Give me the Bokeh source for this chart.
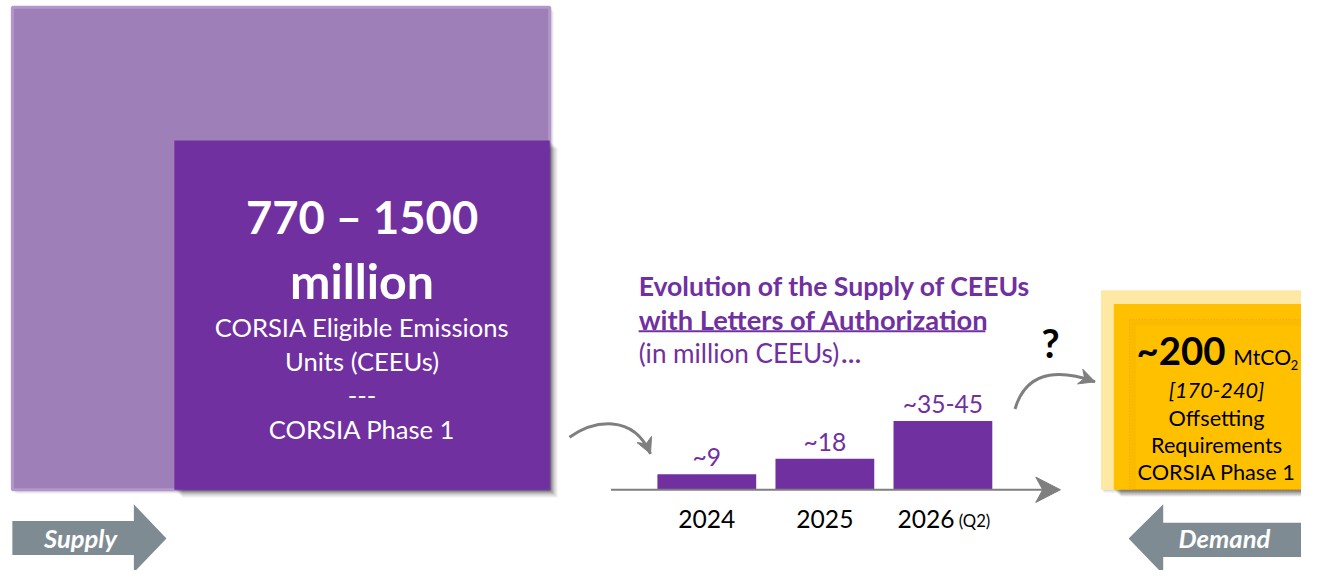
from bokeh.plotting import figure
from bokeh.models import Range1d
from bokeh.core.properties import value
from bokeh.embed import file_html
from bokeh.resources import INLINE

# ---------------- data ----------------
years = ["2024", "2025", "2026"]
year_suffix = ["", "", "(Q2)"]
supply_values = [9, 18, 40]
value_labels = ["~9", "~18", "~35-45"]

supply_headline = "770 – 1500"
supply_unit = "million"
supply_lines = ["CORSIA Eligible Emissions", "Units (CEEUs)", "---", "CORSIA Phase 1"]

title_lines = ["Evolution of the Supply of CEEUs", "with Letters of Authorization"]
subtitle = "(in million CEEUs)"

demand_headline = "~200"
demand_unit = "MtCO"
demand_lines = ["[170-240]", "Offsetting", "Requirements", "CORSIA Phase 1"]

# ---------------- styles ----------------
FONT = "Lato"
PURPLE = "#7030A0"
LAVENDER = "#9E7FB7"
GREY = "#7F7F7F"
SLATE = "#7F8B92"
GOLD = "#FFC000"
PALE_GOLD = "#FFE8A3"
FS = 0.985  # font scale to match the canvas scale

W, H = 1301, 570
p = figure(width=W, height=H, output_backend="svg", toolbar_location=None,
           x_range=Range1d(0, 1317), y_range=Range1d(586, 0),
           x_axis_type=None, y_axis_type=None, min_border=0,
           outline_line_color=None, background_fill_color="white",
           border_fill_color="white")
p.grid.visible = False


def txt(x, y, s, size, color="white", style="normal", align="center"):
    p.text(x=[x], y=[y], text=[s], text_font=value(FONT),
           text_font_size=f"{size * FS:.1f}px",
           text_font_style=style, text_color=color, text_align=align,
           text_baseline="middle")


def shadow(l, t, r, b, n=7, a=0.05):
    for o in range(1, n + 1):
        p.quad(left=[l + o], right=[r + o], top=[t + o], bottom=[b + o],
               fill_color="black", fill_alpha=a, line_color=None)


def bez_arrow(x0, y0, cx0, cy0, cx1, cy1, x1, y1, color, lw=3, hl=16, hw=8):
    p.bezier(x0=[x0], y0=[y0], cx0=[cx0], cy0=[cy0], cx1=[cx1], cy1=[cy1],
             x1=[x1], y1=[y1], line_color=color, line_width=lw)
    dx, dy = x1 - cx1, y1 - cy1
    n = (dx * dx + dy * dy) ** 0.5
    ux, uy = dx / n, dy / n
    px, py = -uy, ux
    bx, by = x1 - ux * hl, y1 - uy * hl
    nx, ny = x1 - ux * hl * 0.7, y1 - uy * hl * 0.7
    p.patch(x=[x1, bx + px * hw, nx, bx - px * hw], y=[y1, by + py * hw, ny, by - py * hw],
            fill_color=color, line_color=color, line_width=1)


# ---------------- supply squares ----------------
shadow(12, 7, 556, 503, 4)
p.quad(left=[12], right=[556], top=[7], bottom=[503], fill_color=LAVENDER, line_color=None)
p.quad(left=[12], right=[556], top=[7], bottom=[503], fill_color=None,
       line_color="#B397CC", line_width=3)
shadow(176, 144, 556, 503, 8)
p.quad(left=[176], right=[556], top=[144], bottom=[503], fill_color=PURPLE, line_color=None)

cx = 366
txt(cx, 222, supply_headline, 46, style="bold")
txt(cx, 287, supply_unit, 49, style="bold")
for s, yc in zip(supply_lines, [336, 371, 407, 441]):
    txt(cx, yc, s, 26)

# Supply arrow
p.patch(x=[12, 135, 135, 168, 135, 135, 12], y=[535, 535, 518, 553, 588, 570, 570],
        fill_color=SLATE, line_color=None)
txt(81, 553, "Supply", 26, style="bold italic")

# ---------------- bar chart ----------------
base_y = 503
px_per_unit = 1.77
bar_w = 100
first_c = 715
step = 119.5
centers = [first_c + i * step for i in range(len(years))]
tops = [base_y - v * px_per_unit for v in supply_values]
p.vbar(x=centers, width=bar_w, bottom=base_y, top=tops, fill_color=PURPLE, line_color=None)
p.text(x=centers, y=[t - 18 for t in tops], text=value_labels, text_font=value(FONT),
       text_font_size=f"{25 * FS:.1f}px", text_color=PURPLE, text_align="center",
       text_baseline="middle")

# axis line with arrow
p.segment(x0=[618], y0=[base_y], x1=[1058], y1=[base_y], line_color=GREY, line_width=2)
p.patch(x=[1073, 1048, 1055, 1048], y=[base_y, base_y - 13, base_y, base_y + 13],
        fill_color=GREY, line_color=GREY)

# year labels
for c, yr, suf in zip(centers, years, year_suffix):
    if suf:
        txt(c - 46, 533, yr, 25, color="black", align="left")
        txt(c + 16, 535, suf, 17, color="black", align="left")
    else:
        txt(c, 533, yr, 25, color="black")

# titles
txt(646, 293, title_lines[0], 27, color=PURPLE, style="bold", align="left")
txt(646, 328, title_lines[1], 27.7, color=PURPLE, style="bold", align="left")
p.segment(x0=[646], y0=[340], x1=[997], y1=[340], line_color=PURPLE, line_width=2)
txt(646, 362, subtitle, 26.5, color=PURPLE, align="left")
txt(851, 362, "…", 26, color=PURPLE, style="bold", align="left")

# curved arrows
bez_arrow(576, 449, 600, 432, 640, 424, 658, 466, GREY)
bez_arrow(1027, 420, 1040, 375, 1080, 382, 1108, 392, GREY)
txt(1063, 352, "?", 40, color="black", style="bold")

# ---------------- demand box ----------------
shadow(1114, 298, 1320, 503, 3)
p.quad(left=[1114], right=[1320], top=[298], bottom=[503], fill_color=PALE_GOLD, line_color=None)
shadow(1127, 312, 1320, 503, 7, 0.08)
p.quad(left=[1127], right=[1320], top=[312], bottom=[503], fill_color=GOLD, line_color=None)
for i in range(6):
    p.quad(left=[1144 + i], right=[1330], top=[329 + i], bottom=[503], fill_color=None,
           line_color="#C08000", line_alpha=0.07, line_width=1)
p.quad(left=[1143], right=[1330], top=[328], bottom=[503], fill_color=None,
       line_color="#F39A3A", line_width=1, line_dash="1 2")

txt(1150, 359, demand_headline, 39, color="black", style="bold", align="left")
txt(1248, 366, demand_unit, 21.5, color="black", align="left")
txt(1306, 375, "2", 13, color="black", align="left")
for s, yc in zip(demand_lines, [400, 429, 457, 485]):
    txt(1231, yc, s, 22, color="black", style="italic" if s.startswith("[") else "normal")

# Demand arrow
p.patch(x=[1320, 1177, 1177, 1142, 1177, 1177, 1320], y=[537, 537, 518, 553, 590, 572, 572],
        fill_color=SLATE, line_color=None)
txt(1239, 553, "Demand", 26, style="bold italic")

open("out.html", "w").write(file_html(p, INLINE))
